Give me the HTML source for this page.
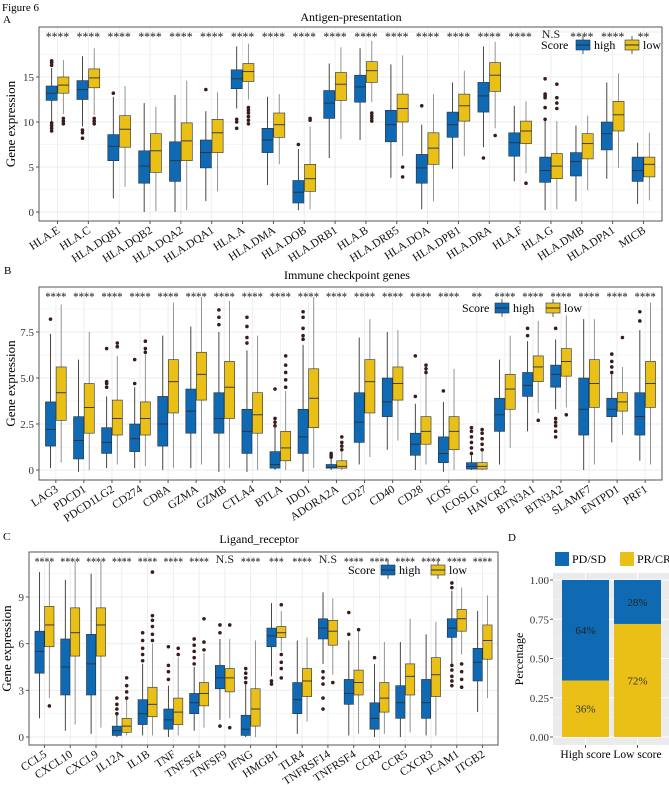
<!DOCTYPE html>
<html><head><meta charset="utf-8"><style>
body{margin:0;background:#fff;}
svg{display:block;font-family:"Liberation Serif",serif;}
</style></head><body>
<svg id="fig" width="669" height="785" viewBox="0 0 669 785" xmlns="http://www.w3.org/2000/svg">
<text x="2" y="11" font-size="11">Figure 6</text>
<text x="3" y="23" font-size="11">A</text>
<text x="4" y="274" font-size="11">B</text>
<text x="3" y="540" font-size="11">C</text>
<text x="508" y="541" font-size="11">D</text>
</svg>
<script>
// ---------- Panel A data ----------
const aCats=["HLA.E","HLA.C","HLA.DQB1","HLA.DQB2","HLA.DQA2","HLA.DQA1","HLA.A","HLA.DMA","HLA.DOB","HLA.DRB1","HLA.B","HLA.DRB5","HLA.DOA","HLA.DPB1","HLA.DRA","HLA.F","HLA.G","HLA.DMB","HLA.DPA1","MICB"];
const aHigh=[[9.5,12.4,13.2,14,16],[9.5,12.5,13.6,14.6,17.3],[1.5,5.7,7.3,8.6,12.8],[0,3.2,5.1,6.8,12.1],[0,3.4,5.7,7.8,13],[1.2,4.9,6.6,8,11.2],[11.5,13.7,14.8,15.8,18.4],[3,6.6,8,9.3,12.8],[0.2,1,2.2,3.5,7],[6,10.4,12.1,13.5,16.5],[8,12.2,13.9,15.2,18.2],[3.8,7.8,9.7,11.3,16.4],[0.3,3.2,4.9,6.4,9.7],[4.8,8.3,9.7,11.1,14.4],[7.2,11.1,12.9,14.4,18.4],[3.4,6.2,7.7,8.8,11.8],[0.2,3.3,4.6,6.1,10.2],[1.2,4,5.6,6.6,9.6],[3.7,6.9,8.7,10,14.4],[0.9,3.4,4.6,6.1,7.7]];
const aLow=[[10.9,13.2,14.1,15,16.9],[10.8,13.8,14.9,15.9,18.2],[2.8,7.2,9.2,10.7,14],[0.1,4.4,6.8,8.7,11.7],[0.2,5.7,7.9,9.9,14.6],[2.3,6.6,8.8,10.3,13.3],[12.5,14.5,15.6,16.5,18.7],[5.3,8.3,9.7,11,13.1],[0.3,2.3,3.7,5.3,9.5],[8.1,12.4,14.2,15.5,18.3],[12.2,14.4,15.7,16.7,19],[6.2,10,11.5,13.1,17.4],[1.2,5.3,7.1,8.8,13.1],[6.2,10.1,11.8,13.1,15.7],[9.3,13.4,15.2,16.6,18.9],[4.3,7.6,9,10.1,12.3],[0.3,3.7,5.1,6.5,10.1],[2.4,5.9,7.6,8.7,10.7],[4.9,9,10.8,12.3,15.4],[1.3,3.9,5.3,6.1,8.8]];
const aHighOut=[[9,9.3,9.6,9.9,16.3,16.6,16.8],[8.2,8.8,9.1],[13.2],[],[],[13.6],[9.3,10,10.3],[],[7.5],[],[],[],[11.8],[],[6],[],[10.3,11.6,12.7,12.9,13.1,14.8],[],[],[]];
const aLowOut=[[9.8,10.1,10.4],[9.8,10.1,10.4],[],[],[],[],[9.8,10.2,10.6,11,11.3,11.6],[],[10.2,10.4],[],[10.1,10.4,10.7,11],[3.9,5],[],[],[8.5],[3.2],[11.5,12.1,12.7,14.2],[],[],[]];
const aSig=["****","****","****","****","****","****","****","****","****","****","****","****","****","****","****","****","N.S","****","****","**"];
const aTicks=[0,5,10,15];
const aTickLabels=["0","5","10","15"];
// ---------- Panel B data ----------
const bCats=["LAG3","PDCD1","PDCD1LG2","CD274","CD8A","GZMA","GZMB","CTLA4","BTLA","IDO1","ADORA2A","CD27","CD40","CD28","ICOS","ICOSLG","HAVCR2","BTN3A1","BTN3A2","SLAMF7","ENTPD1","PRF1"];
const bHigh=[[0.1,1.3,2.2,3.7,7.4],[-0.1,0.6,1.6,2.9,6],[0.1,0.9,1.5,2.3,4],[0.1,1,1.7,2.5,4.5],[0,1.3,2.5,4,7.3],[0.1,2,3.2,4.4,7.8],[-0.1,2,2.8,4.2,7.5],[-0.1,0.9,2.1,3.3,6.5],[0,0.1,0.3,1,2.3],[-0.1,0.9,1.8,3.3,6.8],[0,0.1,0.15,0.3,0.6],[0.3,1.5,2.6,4.2,7.2],[1.1,2.9,3.7,5,7.5],[0,0.8,1.4,2,3.6],[-0.1,0.4,0.9,1.8,3.7],[0,0.05,0.2,0.4,0.8],[0.3,2.1,3,3.9,6],[2.1,4,4.6,5.3,7],[3.3,4.5,5.2,5.7,7.1],[0,1.9,3.3,5,8.2],[1.5,2.9,3.3,3.9,5.2],[0.5,1.9,2.9,4.2,7.6]];
const bLow=[[0.4,2.7,4.2,5.6,9],[0,2,3.4,4.7,7.5],[0.3,1.9,2.8,3.8,6.2],[0.2,1.9,2.8,3.7,6.3],[0.1,3.1,4.8,6,9.1],[0.3,3.8,5.2,6.4,9.4],[0.1,2.8,4.5,5.9,9.2],[0,2,3,4.2,7.3],[0,0.5,1.2,2.1,4.3],[0.1,2.3,3.9,5.5,9.4],[0,0.1,0.2,0.5,1],[0.7,3.1,4.8,6,8.2],[1.6,3.8,4.7,5.6,7.6],[0.3,1.4,2.1,2.9,5.2],[0,1.1,2.1,2.9,5.5],[0,0.05,0.2,0.4,1],[1.2,3.3,4.4,5.2,7.3],[3.1,4.8,5.6,6.2,8.1],[3.4,5.1,5.9,6.6,8.4],[0.3,3.4,4.7,6,8.2],[1.9,3.2,3.7,4.2,5.6],[0.3,3.4,4.7,5.9,9.1]];
const bHighOut=[[8.2],[],[4.5,4.7,4.8,6.6],[4.7,6],[],[],[7.9,8.3,8.7],[6.9,7.2,7.8,8.3],[2.4,2.6,2.8,4.4],[7.1,7.3,7.7,8.3,8.6],[0.7,0.8,0.9],[],[],[4,6.2],[4.3],[0.9,1.2,1.5,1.8,2.1,2.3],[],[7.3,7.7],[1.8,2.1,2.4,2.6,2.8,7.7],[],[5.3,5.6,5.9,6.3],[8.1,8.6]];
const bLowOut=[[],[],[6.7,6.9],[6.4,6.6,7],[],[],[],[],[4.5,4.9,5.3,5.7,6.2],[],[1.1,1.3,1.5,1.8],[],[],[5.3,5.5,5.7],[],[1.1,1.4,1.7,2,2.2],[],[2.7],[3],[],[7.2],[]];
const bSig=["****","****","****","****","****","****","****","****","****","****","****","****","****","****","****","**","****","****","****","****","****","****"];
const bTicks=[0,2.5,5,7.5];
const bTickLabels=["0","2.5","5.0","7.5"];
// ---------- Panel C data ----------
const cCats=["CCL5","CXCL10","CXCL9","IL12A","IL1B","TNF","TNFSF4","TNFSF9","IFNG","HMGB1","TLR4","TNFRSF14","TNFRSF4","CCR2","CCR5","CXCR3","ICAM1","ITGB2"];
const cHigh=[[1.2,4.1,5.5,6.8,10.6],[0.4,2.7,4.5,6.3,10.1],[0.2,2.7,4.7,6.6,10.5],[0,0.1,0.4,0.7,1.4],[0.1,0.8,1.5,2.4,4.7],[0,0.5,1.1,1.8,3.3],[0.4,1.5,2.2,2.8,4.5],[1.1,3.1,3.8,4.6,6.3],[0,0.1,0.5,1.4,3.4],[3.9,5.8,6.5,7,8.6],[0.2,1.5,2.4,3.5,6.2],[4.7,6.3,7,7.6,9.3],[0.1,2.1,2.8,3.7,6.2],[0,0.5,1.2,2.2,4.7],[0,1.2,2.2,3.3,6.1],[0.1,1.2,2.2,3.7,6.6],[4.7,6.4,7,7.6,9.4],[1.6,3.6,4.8,5.7,8.1]];
const cLow=[[2.5,5.8,7.2,8.4,11.3],[0.8,5.2,6.7,8.3,11.3],[0.6,5.2,7.2,8.3,11.3],[0.1,0.3,0.7,1.2,2.4],[0.1,1.3,2.1,3.2,6],[0.1,0.8,1.6,2.5,5.1],[0.6,2,2.8,3.5,5.4],[1.2,2.9,3.8,4.4,6.3],[0,0.7,1.8,3.1,6.2],[5.5,6.4,6.7,7.1,8.1],[1,2.6,3.6,4.4,6.4],[4,5.9,6.8,7.5,8.9],[0.2,2.7,3.5,4.3,6.9],[0.2,1.6,2.5,3.5,6.1],[0.3,2.7,3.9,4.7,7.6],[0.1,2.6,4,5.1,7.4],[5.3,6.8,7.6,8.2,9.6],[2.5,5,6.2,7.2,9.1]];
const cHighOut=[[],[],[],[1.5,1.8,2.1,2.5],[4.9,5.3,5.7,6.2,6.7],[3.7,4.2,4.6,5.8],[4.7,5.1,5.5,5.9,6.3],[0.7,6.7,7.2],[3.5,3.8,4.1,4.4],[3.4,3.6],[],[1.8,2.5,3.4,3.8,4.2],[6.6,8],[5.1],[],[],[3.3,3.6,3.9,4.3,4.6,9.6,9.9],[]];
const cLowOut=[[2],[],[],[2.5,2.9,3.3,3.8],[6.2,6.6,7.1,7.5,7.8,10.6],[5.3,5.7],[5.6,6.1,7.6],[0.6,7.2],[],[3.8,4.4,4.8,5.3,8.5],[],[3.5],[6.9],[],[],[],[3.2,3.7,4.2,4.7],[]];
const cSig=["****","****","****","****","****","****","****","N.S","****","***","****","N.S","****","****","****","****","****","****"];
const cTicks=[0,3,6,9];
const cTickLabels=["0","3","6","9"];
// ---------- Panel D data ----------
const dGroups=["High score","Low score"];
const dPR=[0.36,0.72];
const dPD=[0.64,0.28];
const dTicks=[0,0.25,0.5,0.75,1];
const dTickLabels=["0.00","0.25","0.50","0.75","1.00"];

const NS="http://www.w3.org/2000/svg";
const svg=document.getElementById('fig');
const BLUE="#0f6ab3",YEL="#eabf16";
function mk(tag,attrs,parent){const e=document.createElementNS(NS,tag);for(const k in attrs)e.setAttribute(k,attrs[k]);(parent||svg).appendChild(e);return e;}
function txt(s,attrs,parent){const e=mk('text',attrs,parent);e.textContent=s;return e;}

function panel(p){
  const g=mk('g',{});
  
  
  const n=p.cats.length, s=(p.x1-p.x0)/(n-1+1.2);
  const cx=i=>p.x0+s*(0.6+i);
  const Y=v=>p.yv0-v*p.ppu;
  mk('rect',{x:p.x0,y:p.y0,width:p.x1-p.x0,height:p.y1-p.y0,fill:'#fff'},g);
  const step=p.ticks[1]-p.ticks[0];
  for(let k=-1;k<=p.ticks.length*2+4;k++){
    const t=k*step/2, yy=Y(t); if(yy<p.y0||yy>p.y1)continue;
    mk('line',{x1:p.x0,x2:p.x1,y1:yy,y2:yy,stroke:'#ececec','stroke-width':k%2===0?0.9:0.5},g);
  }
  for(let i=0;i<n;i++)mk('line',{x1:cx(i),x2:cx(i),y1:p.y0,y2:p.y1,stroke:'#ececec','stroke-width':0.9},g);
  const off=0.19*s,bw=0.36*s;
  [[p.high,p.highOut,BLUE,'#333','high'],[p.low,p.lowOut,YEL,'#888','low']].forEach((grp,gi)=>{
    for(let i=0;i<n;i++){
      const d=grp[0][i],x=cx(i)+(gi?off:-off);
      const bg=mk('g',{},g);
      
      
      mk('line',{x1:x,x2:x,y1:Y(d[0]),y2:Y(d[4]),stroke:grp[3],'stroke-width':0.9},bg);
      mk('rect',{x:x-bw/2,y:Y(d[3]),width:bw,height:Math.max(1,Y(d[1])-Y(d[3])),fill:grp[2],stroke:'#263040','stroke-width':0.6},bg);
      mk('line',{x1:x-bw/2,x2:x+bw/2,y1:Y(d[2]),y2:Y(d[2]),stroke:'#263040','stroke-width':0.9},bg);
      grp[1][i].forEach(v=>{mk('circle',{cx:x,cy:Y(v),r:1.8,fill:'#3a1c1c'},bg);});
    }
  });
  for(let i=0;i<n;i++){
    const ns=p.sig[i]=='N.S';
    const attrs={x:cx(i),y:p.y0+(ns?11:14),'text-anchor':'middle','font-size':ns?12:13,fill:'#222'};
    if(!ns){attrs.textLength=(p.sig[i].length*0.19*s).toFixed(1);attrs.lengthAdjust='spacingAndGlyphs';}
    const t=txt(p.sig[i],attrs,g);
    
    
  }
  mk('rect',{x:p.x0,y:p.y0,width:p.x1-p.x0,height:p.y1-p.y0,fill:'none',stroke:'#555','stroke-width':1},g);
  p.ticks.forEach((t,i)=>{
    mk('line',{x1:p.x0-3,x2:p.x0,y1:Y(t),y2:Y(t),stroke:'#555'},g);
    const tl=txt(p.tickLabels[i],{x:p.x0-5,y:Y(t)+4,'text-anchor':'end','font-size':11,fill:'#333'},g);
    
    
  });
  for(let i=0;i<n;i++){
    mk('line',{x1:cx(i),x2:cx(i),y1:p.y1,y2:p.y1+3,stroke:'#555'},g);
    const xl=txt(p.cats[i],{x:cx(i)+3,y:p.y1+11,'text-anchor':'end','font-size':11.5,fill:'#111',transform:`rotate(-33 ${cx(i)+3} ${p.y1+11})`},g);
    
    
  }
  const yt=txt('Gene expression',{x:p.yx,y:(p.y0+p.y1)/2,'text-anchor':'middle','font-size':13,transform:`rotate(-90 ${p.yx} ${(p.y0+p.y1)/2})`},g);
  
  
  const tt=txt(p.title,{x:p.tx,y:p.ty,'text-anchor':'middle','font-size':12},g);
  
  
  const lg=mk('g',{},g);
  
  
  const L=p.leg;
  txt('Score',{x:L[0],y:L[3]+4,'font-size':12},lg);
  [[L[1],BLUE,'high'],[L[2],YEL,'low']].forEach(k=>{
    mk('line',{x1:k[0]+7,x2:k[0]+7,y1:L[3]-9,y2:L[3]+9,stroke:'#333','stroke-width':0.8},lg);
    mk('rect',{x:k[0],y:L[3]-5,width:14,height:10,fill:k[1],stroke:'#263040','stroke-width':0.6},lg);
    mk('line',{x1:k[0],x2:k[0]+14,y1:L[3],y2:L[3],stroke:'#263040'},lg);
    const lt=txt(k[2],{x:k[0]+18,y:L[3]+4,'font-size':12},lg);
    
    
  });
}

panel({name:'panel-a-antigen-presentation',cats:aCats,high:aHigh,low:aLow,highOut:aHighOut,lowOut:aLowOut,sig:aSig,ticks:aTicks,tickLabels:aTickLabels,
  x0:39,x1:662,y0:27,y1:221,yv0:212,ppu:9,title:'Antigen-presentation',tx:351,ty:21,yx:15,leg:[541,576,625,45]});
panel({name:'panel-b-immune-checkpoint',cats:bCats,high:bHigh,low:bLow,highOut:bHighOut,lowOut:bLowOut,sig:bSig,ticks:bTicks,tickLabels:bTickLabels,
  x0:39,x1:662,y0:287,y1:480,yv0:470,ppu:18.4,title:'Immune checkpoint genes',tx:347,ty:279,yx:15,leg:[462,495,546,308]});
panel({name:'panel-c-ligand-receptor',cats:cCats,high:cHigh,low:cLow,highOut:cHighOut,lowOut:cLowOut,sig:cSig,ticks:cTicks,tickLabels:cTickLabels,
  x0:29,x1:498,y0:552,y1:745,yv0:737,ppu:15.56,title:'Ligand_receptor',tx:259,ty:543,yx:11,leg:[348,381,431,570]});

// ---------- Panel D ----------
(function(){
  const g=mk('g',{});
  
  
  const x0=553,x1=669,y0=573,y1=745;
  const Y=v=>737-157*v;
  mk('rect',{x:x0,y:y0,width:x1-x0,height:y1-y0,fill:'#ebebeb'},g);
  dTicks.forEach((t,i)=>{
    mk('line',{x1:x0,x2:x1,y1:Y(t),y2:Y(t),stroke:'#fff','stroke-width':1},g);
    if(i<dTicks.length-1)mk('line',{x1:x0,x2:x1,y1:Y(t+0.125),y2:Y(t+0.125),stroke:'#f6f6f6','stroke-width':0.5},g);
    mk('line',{x1:x0-3,x2:x0,y1:Y(t),y2:Y(t),stroke:'#555'},g);
    const tl=txt(dTickLabels[i],{x:x0-4,y:Y(t)+4,'text-anchor':'end','font-size':11,fill:'#333'},g);
    
    
  });
  const bw=47,cxs=[585.5,637.5];
  dGroups.forEach((gname,i)=>{
    const cx=cxs[0]+(cxs[1]-cxs[0])*i;
    mk('line',{x1:cx,x2:cx,y1:y0,y2:y1,stroke:'#fff'},g);
    const pr=mk('rect',{x:cx-bw/2,y:Y(dPR[i]),width:bw,height:Y(0)-Y(dPR[i]),fill:YEL},g);
    
    
    const pd=mk('rect',{x:cx-bw/2,y:Y(dPR[i]+dPD[i]),width:bw,height:Y(dPR[i])-Y(dPR[i]+dPD[i]),fill:BLUE},g);
    
    
    txt(Math.round(dPR[i]*100)+'%',{x:cx,y:Y(dPR[i]/2)+4,'text-anchor':'middle','font-size':11,fill:'#333'},g);
    txt(Math.round(dPD[i]*100)+'%',{x:cx,y:Y(dPR[i]+dPD[i]/2)+4,'text-anchor':'middle','font-size':11,fill:'#222'},g);
    mk('line',{x1:cx,x2:cx,y1:y1,y2:y1+3,stroke:'#555'},g);
    const xl=txt(gname,{x:cx,y:758,'text-anchor':'middle','font-size':11.5},g);
    
    
  });
  const yt=txt('Percentage',{x:523,y:659,'text-anchor':'middle','font-size':12,transform:'rotate(-90 523 659)'},g);
  
  
  const lg=mk('g',{},g);
  
  
  mk('rect',{x:555,y:552,width:14,height:14,fill:BLUE},lg);
  const l1=txt('PD/SD',{x:572,y:563,'font-size':12},lg);
  
  
  mk('rect',{x:620,y:552,width:14,height:14,fill:YEL},lg);
  const l2=txt('PR/CR',{x:637,y:563,'font-size':12},lg);
  
  
})();
</script>
</body></html>
